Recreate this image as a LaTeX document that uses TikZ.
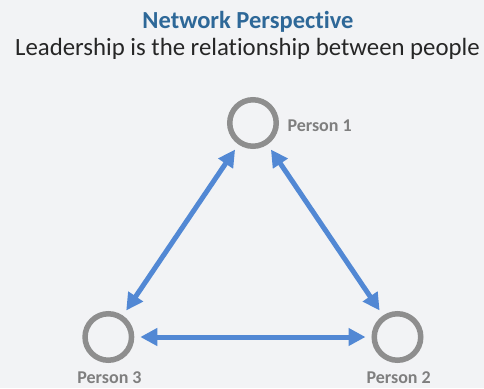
\documentclass[tikz,border=0pt]{standalone}
\usepackage{fontspec}
\setmainfont{Carlito}[Ligatures={NoCommon}]
\usetikzlibrary{arrows.meta}
\definecolor{bgcol}{HTML}{F2F3F5}
\definecolor{titleblue}{HTML}{2E6898}
\definecolor{subtext}{HTML}{262626}
\definecolor{ringgray}{HTML}{8E8E8E}
\definecolor{labelgray}{HTML}{7F7F7F}
\definecolor{linkblue}{HTML}{5288D4}
\tikzset{
  person/.style={circle, draw=ringgray, line width=5.5pt, minimum size=46.5pt, inner sep=0pt},
  plabel/.style={text=labelgray, font=\fontsize{18}{21}\selectfont\bfseries, inner sep=0pt},
  link/.style={draw=linkblue, line width=5pt,
    {Triangle[length=17pt,width=17pt]}-{Triangle[length=17pt,width=17pt]},
    shorten <=6pt, shorten >=6pt},
}
\begin{document}
\begin{tikzpicture}[x=1pt, y=-1pt]
  % canvas
  \fill[bgcol] (0,0) rectangle (484,388);
  \useasboundingbox (0,0) rectangle (484,388);

  % heading
  \node[anchor=base, inner sep=0pt, text=titleblue,
        font=\fontsize{24.5}{29}\selectfont\bfseries] (title) at (248,28.3) {Network Perspective};
  \node[anchor=base, inner sep=0pt, text=subtext,
        font=\fontsize{24.8}{29}\selectfont] (subtitle) at (247.5,55) {Leadership is the relationship between people};

  % people
  \node[person] (p1) at (253,123) {};
  \node[person] (p2) at (397.5,337) {};
  \node[person] (p3) at (108.3,337) {};

  \node[plabel, anchor=base west] (l1) at (287.3,131.5) {Person 1};
  \node[plabel, anchor=base] (l2) at (398.7,383.5) {Person 2};
  \node[plabel, anchor=base] (l3) at (109.5,383.5) {Person 3};

  % relationships
  \draw[link] (p1) -- (p3);
  \draw[link] (p1) -- (p2);
  \draw[link] (p3) -- (p2);
\end{tikzpicture}
\end{document}
